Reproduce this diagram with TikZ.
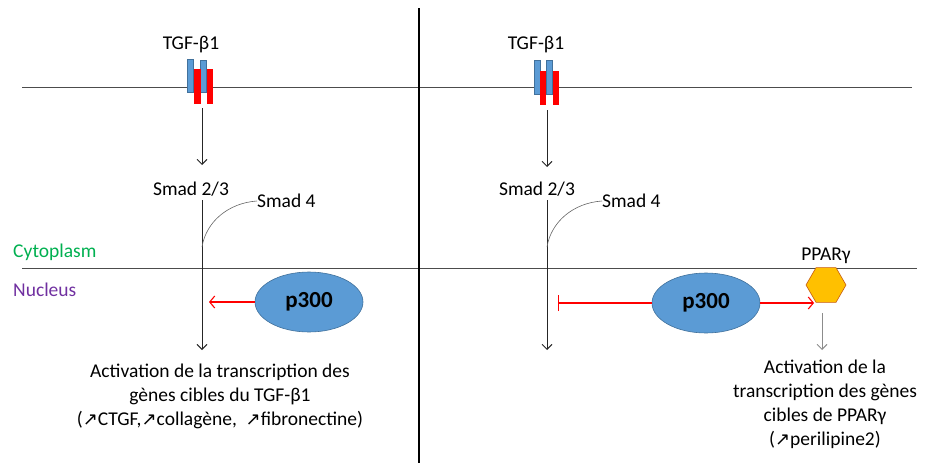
\documentclass[tikz,border=0pt]{standalone}
\usepackage{fontspec}
\setmainfont{Carlito}
\newfontfamily\symf{DejaVu Sans}
\usetikzlibrary{arrows.meta,shapes.geometric}
\definecolor{cblue}{HTML}{5B9BD5}
\definecolor{cblueb}{HTML}{41719C}
\definecolor{cred}{HTML}{FF0000}
\definecolor{corange}{HTML}{FFC000}
\definecolor{corangeb}{HTML}{C55A11}
\definecolor{cgreen}{HTML}{00B050}
\definecolor{cpurple}{HTML}{7030A0}
\newcommand{\up}{{\symf\fontsize{18}{20}\selectfont ↗}}
\begin{document}
\begin{tikzpicture}[x=1pt,y=-1pt,
  font=\fontsize{19.5}{23}\selectfont,
  memb/.style={draw=black!70, line width=0.8pt},
  divider/.style={draw=black, line width=1.6pt},
  recblue/.style={fill=cblue, draw=cblueb, line width=0.4pt},
  recred/.style={fill=cred},
  blackarrow/.style={draw=black!85, line width=0.9pt, -{Straight Barb[length=5pt,width=10pt]}},
  grayarrow/.style={draw=black!45, line width=0.9pt, -{Straight Barb[length=5pt,width=10pt]}},
  redarrow/.style={draw=cred, line width=1.1pt, -{Straight Barb[length=5pt,width=12pt]}},
  redbar/.style={draw=cred, line width=1.1pt, -{Bar[width=16pt]}},
  p300/.style={ellipse, fill=cblue, draw=cblueb, line width=0.6pt, minimum width=108pt, minimum height=60pt, inner sep=0pt, font=\fontsize{23}{26}\selectfont\bfseries},
  hexa/.style={regular polygon, regular polygon sides=6, fill=corange, draw=corangeb, line width=0.6pt, minimum size=40pt, inner sep=0pt},
  lbl/.style={inner sep=0pt},
  body/.style={inner sep=0pt, align=center, font=\fontsize{19.5}{24}\selectfont}
]
\useasboundingbox (0,0) rectangle (946,463);
% membranes and divider
\draw[memb] (22,87) -- (912,87);
\draw[memb] (22,268) -- (917,268);
\draw[divider] (419,8) -- (419,463);
% compartment labels
\node[lbl, anchor=west, text=cgreen] (cyto) at (13,252) {Cytoplasm};
\node[lbl, anchor=west, text=cpurple] (nucl) at (13,290) {Nucleus};

% ===== left panel =====
\node[lbl] (tgfL) at (191,45) {TGF-β1};
\path[recblue] (187,59) rectangle (193.5,92.5);
\path[recblue] (200,60.5) rectangle (206.5,92.5);
\path[recred] (194,69) rectangle (200.5,103.5);
\path[recred] (206.5,69) rectangle (213,103.5);
\coordinate (aL1) at (202,108);
\coordinate (aL2) at (202,165);
\draw[blackarrow] (aL1) -- (aL2);
\node[lbl] (smadL) at (191,189) {Smad 2/3};
\coordinate (sL1) at (202,200);
\coordinate (sL2) at (202,350);
\draw[blackarrow] (sL1) -- (sL2);
\node[lbl, anchor=west] (smad4L) at (257,201) {Smad 4};
\draw[draw=black!60, line width=0.6pt] (202,247) .. controls (206,222) and (228,203) .. (smad4L.west);
\node[p300] (pL) at (309,302) {p300};
\coordinate (tL) at (209,302);
\draw[redarrow] (pL.west) -- (tL);
\node[body] (txtL) at (220,396) {Activation de la transcription des\\gènes cibles du TGF-β1\\(\up CTGF,\up collagène, \ \up fibronectine)};

% ===== right panel =====
\node[lbl] (tgfR) at (536,45) {TGF-β1};
\path[recblue] (534,60) rectangle (540.5,94);
\path[recblue] (546,60) rectangle (552.5,94);
\path[recred] (540,71) rectangle (546,105);
\path[recred] (552.5,71) rectangle (559,105);
\coordinate (aR1) at (547,110);
\coordinate (aR2) at (547,167);
\draw[blackarrow] (aR1) -- (aR2);
\node[lbl] (smadR) at (537,189) {Smad 2/3};
\coordinate (sR1) at (547,200);
\coordinate (sR2) at (547,350);
\draw[blackarrow] (sR1) -- (sR2);
\node[lbl, anchor=west] (smad4R) at (602,201) {Smad 4};
\draw[draw=black!60, line width=0.6pt] (547,247) .. controls (551,222) and (573,203) .. (smad4R.west);
\node[p300] (pR) at (706,303) {p300};
\coordinate (tR) at (558,303);
\draw[redbar] (pR.west) -- (tR);
\node[lbl] (ppar) at (826,256) {PPARγ};
\node[hexa] (hex) at (826,285) {};
\coordinate (hR) at (814,303);
\draw[redarrow] (pR.east) -- (hR);
\coordinate (gR1) at (822,313);
\coordinate (gR2) at (822,350);
\draw[grayarrow] (gR1) -- (gR2);
\node[body] (txtR) at (825,404) {Activation de la\\transcription des gènes\\cibles de PPARγ\\(\up perilipine2)};
\end{tikzpicture}
\end{document}
